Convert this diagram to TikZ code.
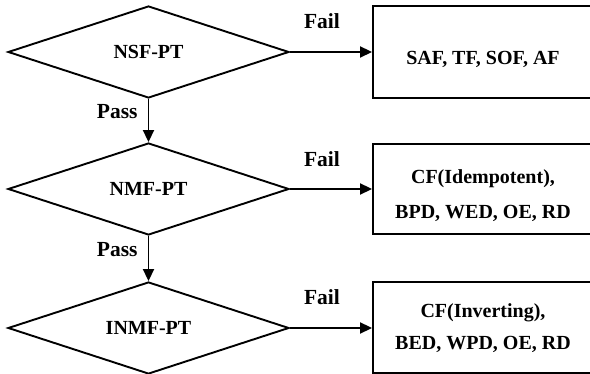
\documentclass[tikz,border=0pt]{standalone}
\usepackage{fontspec}
\setmainfont{Liberation Serif}
\usetikzlibrary{shapes.geometric,arrows.meta}

\begin{document}
\begin{tikzpicture}[x=1pt,y=1pt,
  every node/.style={font=\bfseries\fontsize{20}{24}\selectfont},
  test/.style={draw, line width=1.9pt, shape=diamond, aspect=3,
    minimum width=281pt, minimum height=92pt, inner sep=0pt},
  faultbox/.style={draw, line width=1.9pt, rectangle,
    minimum width=220pt, inner sep=0pt},
  flow/.style={line width=1.9pt, -{Triangle[length=12pt,width=11pt]}},
  lbl/.style={inner sep=0pt},
  edgelbl/.style={inner sep=0pt, font=\bfseries\fontsize{21.5}{24}\selectfont}
]
\useasboundingbox (0,0) rectangle (590,374);
\fill[white] (0,0) rectangle (590,374);
\clip (0,0) rectangle (590,374);

% March test decision diamonds
\node[test] (d1) at (148.5,322) {NSF-PT};
\node[test] (d2) at (148.5,185) {NMF-PT};
\node[test] (d3) at (148.5,46) {INMF-PT};

% Detected fault boxes
\node[faultbox, minimum height=92pt] (b1) at (483,322) {};
\node[faultbox, minimum height=90pt] (b2) at (483,185) {};
\node[faultbox, minimum height=91pt] (b3) at (483,46.5) {};

% Fault lists (anchored on the baseline of their last line)
\node[lbl, anchor=base] (t1) at (483,309) {SAF, TF, SOF, AF};
\node[lbl, anchor=base, align=center, font=\bfseries\fontsize{20}{35}\selectfont]
  (t2) at (483,155.7) {CF(Idempotent),\\BPD, WED, OE, RD};
\node[lbl, anchor=base, align=center, font=\bfseries\fontsize{20}{32}\selectfont]
  (t3) at (483,24) {CF(Inverting),\\BED, WPD, OE, RD};

% Pass connectors
\draw[flow] (d1.south) -- (d2.north)
  node[edgelbl, pos=0.457, anchor=base east, xshift=-10pt] {Pass};
\draw[flow] (d2.south) -- (d3.north)
  node[edgelbl, pos=0.457, anchor=base east, xshift=-10pt] {Pass};

% Fail connectors
\draw[flow] (d1.east) -- (d1.east -| b1.west)
  node[edgelbl, pos=0.39, anchor=base, yshift=23.5pt] {Fail};
\draw[flow] (d2.east) -- (d2.east -| b2.west)
  node[edgelbl, pos=0.39, anchor=base, yshift=22pt] {Fail};
\draw[flow] (d3.east) -- (d3.east -| b3.west)
  node[edgelbl, pos=0.39, anchor=base, yshift=23.5pt] {Fail};
\end{tikzpicture}
\end{document}
